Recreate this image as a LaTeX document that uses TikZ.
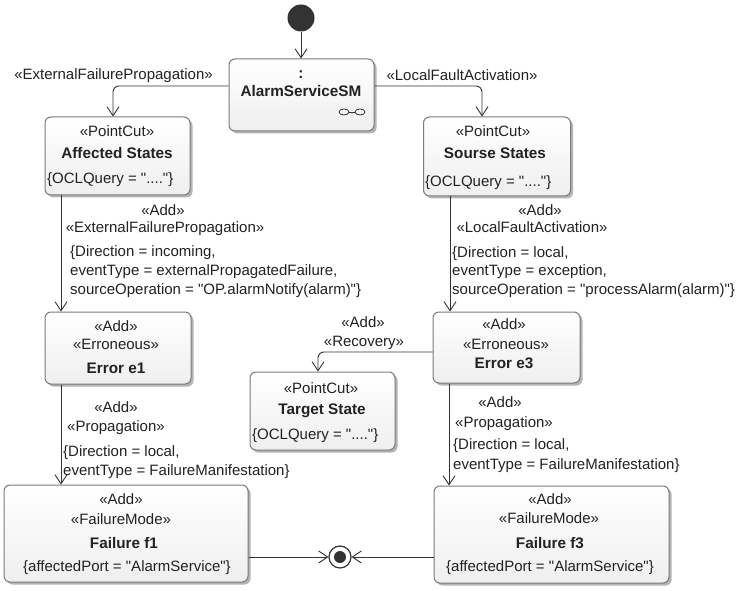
\documentclass[tikz,border=0pt]{standalone}
\usepackage{fontspec}
\setmainfont{Liberation Sans}[Ligatures=TeXOff]
\usetikzlibrary{arrows.meta,shadows}

\definecolor{ink}{HTML}{222222}
\definecolor{edgec}{HTML}{333333}
\definecolor{boxline}{HTML}{7A7A7A}
\definecolor{boxfill}{HTML}{EFEFEF}
\definecolor{shadowc}{HTML}{B4B4B4}
\definecolor{dotc}{HTML}{333333}

\tikzset{
  statebox/.style={draw=boxline, line width=1pt, rounded corners=6pt,
    top color=white, bottom color=boxfill, inner sep=0pt,
    drop shadow={shadow xshift=2.5pt, shadow yshift=-2.5pt, fill=shadowc, opacity=1}},
  txt/.style={anchor=base, inner sep=0pt, text=ink, font=\fontsize{15}{19}\selectfont},
  bname/.style={txt, font=\fontsize{15.3}{19}\selectfont\bfseries},
  tagline/.style={txt, anchor=base west},
  flow/.style={draw=edgec, line width=0.9pt, rounded corners=6pt,
    -{Straight Barb[length=9pt,width=12pt,line width=0.9pt]}},
}

\begin{document}
\begin{tikzpicture}[x=1pt,y=-1pt]
\useasboundingbox[fill=white] (0,0) rectangle (737,591);

% ---- states ----
\node[circle, fill=dotc, minimum size=27pt, inner sep=0pt] (init) at (301,18) {};

\node[statebox, minimum width=145pt, minimum height=72pt] (sm) at (301.5,95) {};
\node[bname] (smcolon) at (301,79) {:};
\node[bname] (smname) at (301,97) {AlarmServiceSM};
% composite-state mark: two linked ovals
\draw[edgec, line width=0.8pt] (344,112) ellipse [x radius=5pt, y radius=3pt];
\draw[edgec, line width=0.8pt] (360,112) ellipse [x radius=5pt, y radius=3pt];
\draw[edgec, line width=0.8pt] (349,112) -- (355,112);

\node[statebox, minimum width=145pt, minimum height=78pt] (as) at (117.5,156) {};
\node[txt] (as1) at (117,137) {«PointCut»};
\node[bname] (as2) at (117,159) {Affected States};
\node[tagline] (as3) at (47,184) {\{OCLQuery = "...."\}};

\node[statebox, minimum width=147pt, minimum height=79pt] (ss) at (497,156.5) {};
\node[txt] (ss1) at (493,137) {«PointCut»};
\node[bname] (ss2) at (495,159) {Sourse States};
\node[tagline] (ss3) at (425,186) {\{OCLQuery = "...."\}};

\node[statebox, minimum width=146pt, minimum height=72pt] (e1) at (118,348) {};
\node[txt] (e11) at (116,331) {«Add»};
\node[txt] (e12) at (116,349) {«Erroneous»};
\node[bname] (e13) at (116,373) {Error e1};

\node[statebox, minimum width=147pt, minimum height=71pt] (e3) at (506.5,347.5) {};
\node[txt] (e31) at (504,329) {«Add»};
\node[txt] (e32) at (506,349) {«Erroneous»};
\node[bname] (e33) at (504,368) {Error e3};

\node[statebox, minimum width=145pt, minimum height=78pt] (ts) at (322.5,411) {};
\node[txt] (ts1) at (321,393) {«PointCut»};
\node[bname] (ts2) at (322,414) {Target State};
\node[tagline] (ts3) at (252,439) {\{OCLQuery = "...."\}};

\node[statebox, minimum width=244pt, minimum height=97pt] (f1) at (126,533.5) {};
\node[txt] (f11) at (121,504) {«Add»};
\node[txt] (f12) at (121,524) {«FailureMode»};
\node[bname] (f13) at (124,548) {Failure f1};
\node[txt] (f14) at (127,571) {\{affectedPort = "AlarmService"\}};

\node[statebox, minimum width=235pt, minimum height=97pt] (f3) at (551.5,534.5) {};
\node[txt] (f31) at (550,504) {«Add»};
\node[txt] (f32) at (549,523) {«FailureMode»};
\node[bname] (f33) at (550,548) {Failure f3};
\node[txt] (f34) at (550,571) {\{affectedPort = "AlarmService"\}};

\node[circle, draw=edgec, line width=1.2pt, fill=white, minimum size=22pt, inner sep=0pt] (fin) at (340,557) {};
\node[circle, fill=dotc, minimum size=12pt, inner sep=0pt] (findot) at (fin.center) {};

% ---- transitions ----
\draw[flow] (init.south) -- (init.south |- sm.north);
\draw[flow] (sm.west |- 0,86) -| (as.north -| 113,0);
\draw[flow] (sm.east |- 0,86) -| (ss.north -| 482,0);
\draw[flow] (as.south -| 61,0) -- (e1.north -| 61,0);
\draw[flow] (ss.south -| 450,0) -- (e3.north -| 450,0);
\draw[flow] (e3.west |- 0,352) -| (ts.north -| 318,0);
\draw[flow] (e1.south -| 61,0) -- (f1.north -| 61,0);
\draw[flow] (e3.south -| 449,0) -- (f3.north -| 449,0);
\draw[flow] (f1.east |- fin) -- (fin.west);
\draw[flow] (f3.west |- fin) -- (fin.east);

% ---- transition labels ----
\node[txt] (lefp) at (113.5,80) {«ExternalFailurePropagation»};
\node[txt] (llfa) at (462,81) {«LocalFaultActivation»};

\node[txt] (l1a) at (163,215) {«Add»};
\node[txt] (l1b) at (165,233) {«ExternalFailurePropagation»};
\node[tagline] (l1c) at (70,256) {\{Direction = incoming,};
\node[tagline] (l1d) at (70,276) {eventType = externalPropagatedFailure,};
\node[tagline] (l1e) at (70,294) {sourceOperation = "OP.alarmNotify(alarm)"\}};

\node[txt] (l2a) at (540,215) {«Add»};
\node[txt] (l2b) at (532,233) {«LocalFaultActivation»};
\node[tagline] (l2c) at (452,258) {\{Direction = local,};
\node[tagline] (l2d) at (452,276) {eventType = exception,};
\node[tagline] (l2e) at (452,294) {sourceOperation = "processAlarm(alarm)"\}};

\node[txt] (l3a) at (363,327) {«Add»};
\node[txt] (l3b) at (364,346) {«Recovery»};

\node[txt] (l4a) at (116,412) {«Add»};
\node[txt] (l4b) at (116,431) {«Propagation»};
\node[tagline] (l4c) at (63,456) {\{Direction = local,};
\node[tagline] (l4d) at (63,475) {eventType = FailureManifestation\}};

\node[txt] (l5a) at (500,407) {«Add»};
\node[txt] (l5b) at (504,427) {«Propagation»};
\node[tagline] (l5c) at (453,449) {\{Direction = local,};
\node[tagline] (l5d) at (453,469) {eventType = FailureManifestation\}};
\end{tikzpicture}
\end{document}
